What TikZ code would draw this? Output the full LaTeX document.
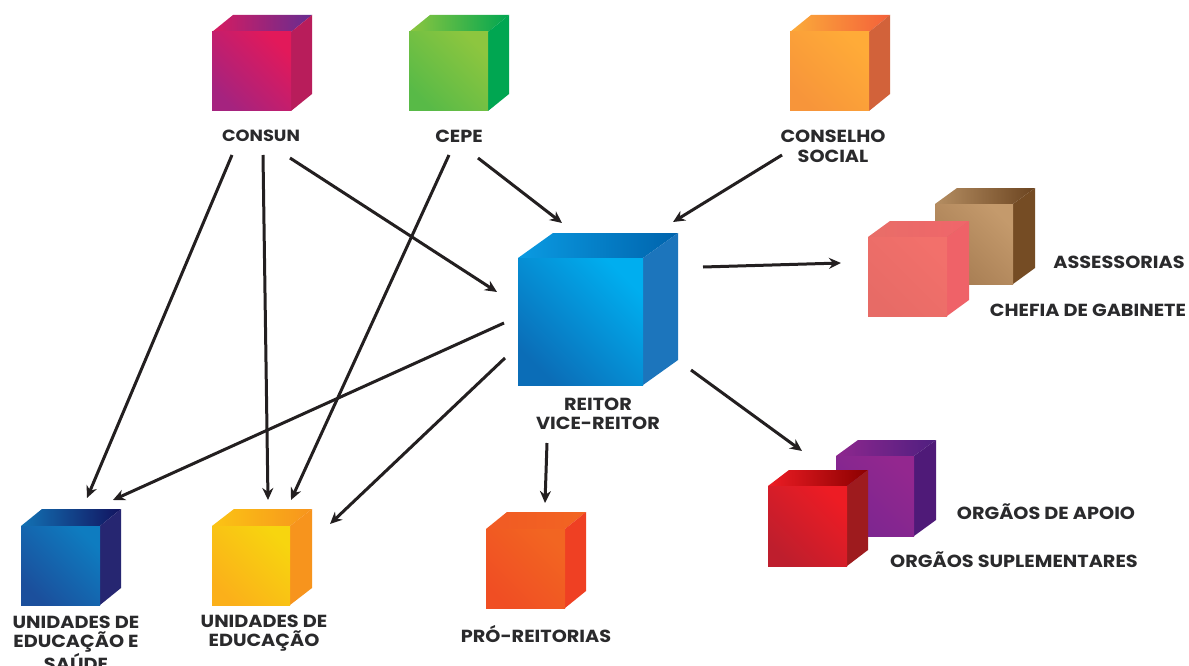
\documentclass[tikz,border=0pt]{standalone}
\usepackage{fontspec}
\setmainfont{Poppins}[FakeStretch=1.1]
\usetikzlibrary{arrows.meta}
\definecolor{ink}{HTML}{2A2A2C}
\definecolor{arrowink}{HTML}{231F20}
% colours: front bottom-left, front top-right, top left, top right, side
\definecolor{conA}{HTML}{A5237F}\definecolor{conB}{HTML}{E2195A}\definecolor{conC}{HTML}{D81B60}\definecolor{conD}{HTML}{662D91}\definecolor{conE}{HTML}{B81D5B}
\definecolor{cepA}{HTML}{58BA47}\definecolor{cepB}{HTML}{8DC63F}\definecolor{cepC}{HTML}{8DC63F}\definecolor{cepD}{HTML}{00A651}\definecolor{cepE}{HTML}{00A651}
\definecolor{socA}{HTML}{F7953A}\definecolor{socB}{HTML}{FFAB38}\definecolor{socC}{HTML}{FBAC3A}\definecolor{socD}{HTML}{F4603A}\definecolor{socE}{HTML}{D2623A}
\definecolor{reiA}{HTML}{0B6DB7}\definecolor{reiB}{HTML}{00AEEF}\definecolor{reiC}{HTML}{0A9BE2}\definecolor{reiD}{HTML}{0063AC}\definecolor{reiE}{HTML}{1C75BC}
\definecolor{broA}{HTML}{A67C52}\definecolor{broB}{HTML}{C49A6C}\definecolor{broC}{HTML}{B58E62}\definecolor{broD}{HTML}{6B4420}\definecolor{broE}{HTML}{754C24}
\definecolor{pinA}{HTML}{E76B66}\definecolor{pinB}{HTML}{F2706B}\definecolor{pinC}{HTML}{E86E68}\definecolor{pinD}{HTML}{F0656A}\definecolor{pinE}{HTML}{EF6268}
\definecolor{purA}{HTML}{7B2690}\definecolor{purB}{HTML}{93278F}\definecolor{purC}{HTML}{8E278E}\definecolor{purD}{HTML}{4F1F80}\definecolor{purE}{HTML}{4F1A78}
\definecolor{redA}{HTML}{BE1E2D}\definecolor{redB}{HTML}{ED1C24}\definecolor{redC}{HTML}{ED1C24}\definecolor{redD}{HTML}{8B0000}\definecolor{redE}{HTML}{9E1B1E}
\definecolor{dkbA}{HTML}{1B4F9C}\definecolor{dkbB}{HTML}{0E7CC0}\definecolor{dkbC}{HTML}{1272B4}\definecolor{dkbD}{HTML}{12135F}\definecolor{dkbE}{HTML}{262671}
\definecolor{yelA}{HTML}{FBB01A}\definecolor{yelB}{HTML}{F7D50F}\definecolor{yelC}{HTML}{FBC414}\definecolor{yelD}{HTML}{F7941D}\definecolor{yelE}{HTML}{F7941D}
\definecolor{proA}{HTML}{F04E23}\definecolor{proB}{HTML}{F26522}\definecolor{proC}{HTML}{F15A24}\definecolor{proD}{HTML}{F26522}\definecolor{proE}{HTML}{EF4023}
\tikzset{
  lab/.style={text=ink,align=center,inner sep=0pt,font=\fontsize{17.5}{19}\selectfont\bfseries},
  arr/.style={draw=arrowink,line width=3pt,-{Stealth[length=12pt,width=11pt]}}
}
% #1 name/colour prefix, #2 left, #3 top, #4 right, #5 bottom, #6 dx, #7 dy
\newcommand{\cubedraw}[7]{%
  \shade[bottom color=#1C,top color=#1C,left color=#1C,right color=#1D]
    (#2,#3) -- (#2+#6,#3-#7) -- (#4+#6,#3-#7) -- (#4,#3) -- cycle;
  \fill[#1E] (#4,#3) -- (#4+#6,#3-#7) -- (#4+#6,#5-#7) -- (#4,#5) -- cycle;
  \shade[bottom color=#1A,top color=#1B,shading angle=-45] (#2,#3) rectangle (#4,#5);
  \path (#2,#3) -- (#4,#5) node[midway,inner sep=0pt,minimum size=0pt] (#1) {};
}
\begin{document}
\begin{tikzpicture}[x=1pt,y=-1pt]
\useasboundingbox (0,0) rectangle (1189,666);
\fill[white] (0,0) rectangle (1189,666);
\cubedraw{con}{212}{32}{291}{111}{21}{17}
\cubedraw{cep}{409}{32}{488}{111}{21}{17}
\cubedraw{soc}{790}{32}{869}{111}{21}{17}
\cubedraw{rei}{518}{258}{643}{385}{35}{25}
\cubedraw{bro}{935}{204}{1013}{284}{22}{16}
\cubedraw{pin}{868}{237}{947}{316}{22}{16}
\cubedraw{pur}{836}{456}{914}{536}{22}{16}
\cubedraw{red}{768}{486}{847}{566}{21}{16}
\cubedraw{dkb}{21}{526}{100}{605}{21}{17}
\cubedraw{yel}{212}{526}{290}{605}{22}{17}
\cubedraw{pro}{486}{529}{565}{608}{21}{17}

\node[lab,font=\fontsize{16.2}{19}\selectfont\bfseries] (lcon) at (261,136) {CONSUN};
\node[lab] (lcep) at (459,136) {CEPE};
\node[lab,font=\fontsize{17.5}{20}\selectfont\bfseries] (lsoc) at (833,146.5) {CONSELHO\\SOCIAL};
\node[lab] (lrei) at (598,414) {REITOR\\VICE-REITOR};
\node[lab] (lbro) at (1119,262) {ASSESSORIAS};
\node[lab] (lpin) at (1088,310) {CHEFIA DE GABINETE};
\node[lab] (lpur) at (1046,512) {ORGÃOS DE APOIO};
\node[lab] (lred) at (1014,560) {ORGÃOS SUPLEMENTARES};
\node[lab] (ldkb) at (76,643) {UNIDADES DE\\EDUCAÇÃO E\\SAÚDE};
\node[lab] (lyel) at (264,633) {UNIDADES DE\\EDUCAÇÃO};
\node[lab] (lpro) at (536,634) {PRÓ-REITORIAS};

\coordinate (a1s) at (232,155); \coordinate (a1e) at (87,498);
\coordinate (a2s) at (263,155); \coordinate (a2e) at (268,500);
\coordinate (a3s) at (290,158); \coordinate (a3e) at (497,292);
\coordinate (a4s) at (449,155); \coordinate (a4e) at (291,500);
\coordinate (a5s) at (478,158); \coordinate (a5e) at (562,223);
\coordinate (a6s) at (782,155); \coordinate (a6e) at (673,222);
\coordinate (a7s) at (703,267); \coordinate (a7e) at (841,263);
\coordinate (a8s) at (504,323); \coordinate (a8e) at (113,500);
\coordinate (a9s) at (505,358); \coordinate (a9e) at (330,524);
\coordinate (a10s) at (547,443); \coordinate (a10e) at (545,503);
\coordinate (a11s) at (691,370); \coordinate (a11e) at (802,451);
\foreach \n in {1,...,11}{\draw[arr] (a\n s) -- (a\n e);}
\end{tikzpicture}
\end{document}
